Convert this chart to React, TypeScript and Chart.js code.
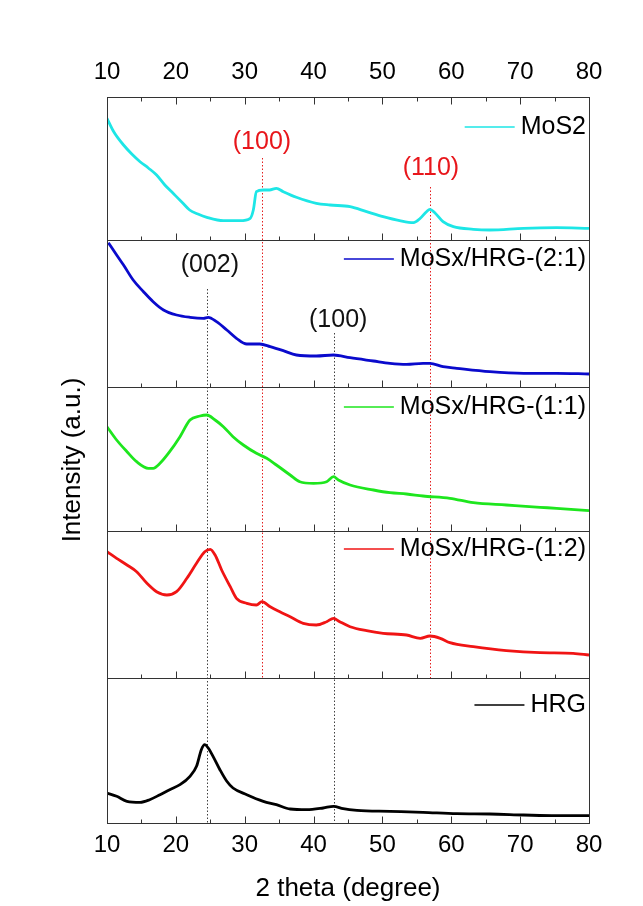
import React, { useEffect, useRef } from 'react';
import { Chart, registerables } from 'chart.js';

Chart.register(...registerables);

// ---------- data (intensity in a.u.) ----------
const thetaMoS2 = [10, 11, 12.4, 13.6, 14.8, 16, 17.2, 18.4, 19.6, 21, 22, 23.2, 24.5, 26.9, 29.3, 30.8, 31.25, 31.7, 32.7, 33.6, 34.6, 35.6, 37.5, 40.4, 42.4, 45.3, 47.7, 50.1, 52.5, 54.5, 55.5, 56.4, 56.9, 57.6, 58.8, 60.3, 63.2, 65.6, 70.5, 75.3, 80];
const intMoS2 = [121.7, 108, 95, 86, 78.3, 72, 65, 55, 46.7, 37, 30, 26, 22.7, 19.3, 19.3, 21.7, 30, 48.3, 50, 50, 51.7, 48.3, 42.7, 36.7, 35, 33.3, 28.3, 23.3, 19.3, 17.3, 21.7, 28.3, 30.7, 27.3, 18.3, 13.3, 10.7, 10, 11.7, 12.3, 11.7];

const theta21 = [10.2, 11.4, 12.4, 13.8, 15.3, 16.7, 18.2, 20.1, 22.05, 24.0, 24.7, 25.9, 27.4, 28.8, 30.3, 32.2, 33.7, 35.6, 37.5, 40.4, 42.9, 45.3, 48.7, 51.1, 53.5, 55.9, 56.9, 58.8, 60.8, 65.6, 70.5, 75.3, 80];
const int21 = [144.3, 132, 122, 107, 95.3, 85.3, 77, 72, 69.7, 68.7, 69.7, 65.3, 57, 48.7, 43, 43, 40.3, 36.3, 32, 31, 32, 29.3, 26, 23.7, 22.7, 23.7, 23.7, 20.3, 18.7, 15.3, 13.7, 13.7, 13];

const theta11 = [10, 11.4, 12.9, 14.3, 16.0, 16.7, 17.7, 19.1, 20.6, 22.05, 23.5, 24.5, 25.7, 26.9, 28.3, 29.8, 31.7, 33.2, 34.6, 36.6, 38.0, 40.0, 41.9, 42.9, 43.6, 45.3, 48.7, 51.1, 53.5, 55.9, 59.8, 63.2, 68.0, 72.9, 75.3, 80];
const int11 = [104.3, 91, 79.3, 69.3, 62.7, 62.7, 67.7, 79.3, 94.3, 111, 115, 116, 111, 104.3, 94.3, 86, 77.7, 72.7, 66, 56, 49.3, 47.7, 49.3, 54.3, 51, 46, 41, 38.3, 37, 35, 32.7, 28.3, 26, 23.7, 22.7, 20.3];

const theta12 = [10, 11.4, 12.9, 14.3, 15.8, 17.2, 18.7, 20.1, 21.6, 23.0, 24.2, 25.0, 25.7, 26.65, 27.9, 28.8, 30.3, 31.7, 32.5, 33.7, 35.1, 36.6, 38.5, 40.4, 41.9, 42.9, 43.8, 45.3, 47.7, 50.1, 53.5, 55.5, 56.9, 58.4, 59.8, 63.2, 68.0, 72.9, 77.7, 80];
const int12 = [126.3, 119.7, 113, 106.3, 94.7, 86.3, 83, 86.3, 99.7, 114.7, 126.3, 128.7, 123, 108, 91.3, 79.7, 74.7, 73, 76.3, 71.3, 66.3, 61.3, 54.7, 53, 56.3, 59.7, 56.3, 51.3, 47.3, 44.7, 43, 39.7, 42, 39.7, 35.3, 31.3, 27.3, 25.3, 24.7, 23];

const thetaHRG = [10, 11.4, 12.9, 14.8, 16.2, 17.7, 19.1, 20.6, 22.05, 23.0, 23.7, 24.2, 24.7, 25.4, 26.4, 27.4, 28.3, 30.3, 32.7, 34.6, 36.6, 39.0, 41.4, 42.9, 44.3, 46.3, 51.1, 55.9, 60.8, 65.6, 70.5, 75.3, 80];
const intHRG = [30, 26.7, 21.7, 20.7, 23.3, 28.3, 33.3, 38.3, 46.7, 56.7, 73.3, 78.3, 75, 66.7, 53.3, 41.7, 35, 28.3, 21.7, 18.3, 14, 13.3, 15, 16.7, 14.3, 12.7, 11.7, 10.7, 9.3, 9, 8, 7.3, 7.3];

const seriesNames = ['MoS2', 'MoSx/HRG-(2:1)', 'MoSx/HRG-(1:1)', 'MoSx/HRG-(1:2)', 'HRG'];
const seriesTheta = [thetaMoS2, theta21, theta11, theta12, thetaHRG];
const seriesInt = [intMoS2, int21, int11, int12, intHRG];

const xTickMin = 10;
const xTickMax = 80;
const xTickStep = 10;

// reference (peak) lines
const refTheta = [32.5, 56.9, 24.5, 43.0];
const refLabels = ['(100)', '(110)', '(002)', '(100)'];

// ---------- styles / layout ----------
const seriesColors = ['#1de6e6', '#0a0acc', '#1ee61e', '#f01414', '#000000'];
const axisIds = ['yMoS2', 'y21', 'y11', 'y12', 'yHRG']; // top -> bottom
const panelWeights = [143, 147, 144, 147, 145];
const legendOffsetY = [30, 19, 20, 18, 27];
const refColors = ['#e41e1e', '#e41e1e', '#404040', '#404040'];
const refTextColors = ['#e8161b', '#e8161b', '#111111', '#111111'];
const refPanel = [0, 0, 1, 1];
const refLabelDy = [45, 71, 25, 80];
const refLabelDx = [0, 1, 3, 4];
const refLineStartDy = [61, 90, 49, 93];
const refLineEndsAtHRG = [true, true, false, false];

const FONT = '"Liberation Sans", Arial, Helvetica, sans-serif';

const decorPlugin = {
  id: 'xrdDecor',
  beforeDatasetsDraw(chart: any) {
    const { ctx, chartArea, scales } = chart;
    const xs = scales.x;
    ctx.save();
    ctx.lineWidth = 1;
    ctx.setLineDash([1.5, 2]);
    refTheta.forEach((t, i) => {
      const px = Math.round(xs.getPixelForValue(t)) + 0.5;
      const panel = scales[axisIds[refPanel[i]]];
      const y0 = panel.top + refLineStartDy[i];
      const y1 = refLineEndsAtHRG[i] ? scales.yHRG.top : chartArea.bottom;
      ctx.strokeStyle = refColors[i];
      ctx.beginPath();
      ctx.moveTo(px, y0);
      ctx.lineTo(px, y1);
      ctx.stroke();
    });
    ctx.restore();
  },
  afterDraw(chart: any) {
    const { ctx, chartArea, scales } = chart;
    const xs = scales.x;
    const { left, right, top, bottom } = chartArea;
    ctx.save();
    ctx.setLineDash([]);
    ctx.strokeStyle = '#333333';
    ctx.lineWidth = 1;

    // frame
    ctx.strokeRect(Math.round(left) + 0.5, Math.round(top) + 0.5, Math.round(right - left), Math.round(bottom - top));

    const majors: number[] = xs.ticks.map((t: any) => t.value);
    const minors: number[] = [];
    for (let i = 0; i < majors.length - 1; i++) minors.push((majors[i] + majors[i + 1]) / 2);

    const drawTicks = (y: number, dir: number) => {
      ctx.beginPath();
      majors.forEach((v) => {
        const px = Math.round(xs.getPixelForValue(v)) + 0.5;
        ctx.moveTo(px, y);
        ctx.lineTo(px, y + dir * 7);
      });
      minors.forEach((v) => {
        const px = Math.round(xs.getPixelForValue(v)) + 0.5;
        ctx.moveTo(px, y);
        ctx.lineTo(px, y + dir * 4);
      });
      ctx.stroke();
    };

    axisIds.forEach((id, p) => {
      const s = scales[id];
      const yb = Math.round(s.bottom) + 0.5;
      ctx.beginPath();
      ctx.moveTo(left, yb);
      ctx.lineTo(right, yb);
      ctx.stroke();
      drawTicks(yb, -1);
      if (p === 0) drawTicks(Math.round(s.top) + 0.5, 1);
    });

    // legends
    ctx.font = `25px ${FONT}`;
    ctx.textBaseline = 'middle';
    axisIds.forEach((id, p) => {
      const s = scales[id];
      const y = s.top + legendOffsetY[p];
      const textRight = right - 3;
      const w = ctx.measureText(seriesNames[p]).width;
      const textLeft = textRight - w;
      ctx.fillStyle = '#000';
      ctx.textAlign = 'right';
      ctx.fillText(seriesNames[p], textRight, y);
      ctx.strokeStyle = seriesColors[p];
      ctx.lineWidth = 1.5;
      ctx.beginPath();
      ctx.moveTo(textLeft - 56, y);
      ctx.lineTo(textLeft - 6, y);
      ctx.stroke();
    });

    // peak labels
    ctx.textAlign = 'center';
    refTheta.forEach((t, i) => {
      const px = xs.getPixelForValue(t) + refLabelDx[i];
      const panel = scales[axisIds[refPanel[i]]];
      ctx.fillStyle = refTextColors[i];
      ctx.fillText(refLabels[i], px, panel.top + refLabelDy[i]);
    });

    // axis titles
    ctx.fillStyle = '#000';
    ctx.font = `26px ${FONT}`;
    ctx.textAlign = 'center';
    ctx.textBaseline = 'middle';
    ctx.fillText('2 theta (degree)', (left + right) / 2, 889);
    ctx.save();
    ctx.translate(73, (top + bottom) / 2);
    ctx.rotate(-Math.PI / 2);
    ctx.fillText('Intensity (a.u.)', 0, 0);
    ctx.restore();

    ctx.restore();
  },
};

export default function App() {
  const canvasRef = useRef<HTMLCanvasElement>(null);

  useEffect(() => {
    const canvas = canvasRef.current;
    if (!canvas) return;

    const datasets = seriesNames.map((name, i) => ({
      label: name,
      data: seriesTheta[i].map((t, j) => ({ x: t, y: seriesInt[i][j] })),
      borderColor: seriesColors[i],
      backgroundColor: seriesColors[i],
      borderWidth: 2.8,
      pointRadius: 0,
      cubicInterpolationMode: 'monotone',
      yAxisID: axisIds[i],
      xAxisID: 'x',
      fill: false,
    }));

    const xTickCommon = {
      stepSize: xTickStep,
      color: '#000',
      font: { family: FONT, size: 24 },
      maxRotation: 0,
      autoSkip: false,
    };

    const scales: any = {
      x: {
        type: 'linear',
        position: 'bottom',
        min: xTickMin,
        max: xTickMax,
        ticks: { ...xTickCommon, padding: 8 },
        grid: { display: false, drawTicks: false },
        border: { display: false },
        afterFit: (s: any) => { s.height = 83; },
      },
      x2: {
        type: 'linear',
        position: 'top',
        min: xTickMin,
        max: xTickMax,
        ticks: { ...xTickCommon, padding: 10 },
        grid: { display: false, drawTicks: false },
        border: { display: false },
        afterFit: (s: any) => { s.height = 97; },
      },
    };
    // define bottom panel first so the last one is stacked at the top
    for (let k = axisIds.length - 1; k >= 0; k--) {
      scales[axisIds[k]] = {
        type: 'linear',
        position: 'left',
        stack: 'xrd',
        stackWeight: panelWeights[k],
        min: 0,
        max: panelWeights[k],
        ticks: { display: false },
        grid: { display: false, drawTicks: false },
        border: { display: false },
        afterFit: (s: any) => { s.width = 0; },
      };
    }

    const chart = new Chart(canvas, {
      type: 'line',
      data: { datasets },
      options: {
        responsive: false,
        animation: false,
        layout: { padding: { left: 107, right: 54, top: 0, bottom: 0 } },
        plugins: { legend: { display: false }, tooltip: { enabled: false } },
        scales,
      },
      plugins: [decorPlugin],
    } as any);

    return () => chart.destroy();
  }, []);

  return (
    <div style={{ position: 'absolute', left: 0, top: 0, width: 643, height: 906, background: '#fff' }}>
      <canvas ref={canvasRef} width={643} height={906} style={{ display: 'block' }} />
    </div>
  );
}
